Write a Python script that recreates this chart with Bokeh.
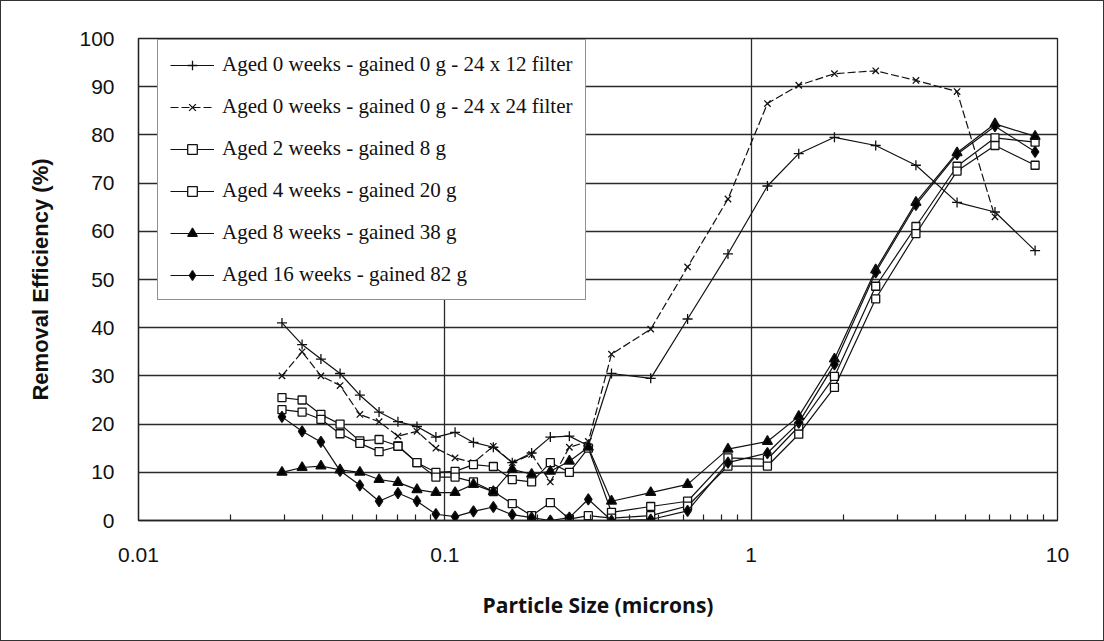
from bokeh.plotting import figure
from bokeh.models import Legend, LegendItem, FixedTicker, CustomJSTickFormatter
from bokeh.embed import file_html
from bokeh.resources import INLINE

NaN = float("nan")

# particle size channels (microns)
particle_size = [0.0294, 0.0342, 0.0394, 0.0455, 0.0528, 0.0610, 0.0703, 0.0811, 0.0935,
                 0.108, 0.124, 0.144, 0.166, 0.192, 0.221, 0.255, 0.294,
                 0.35, 0.47, 0.62, 0.84, 1.13, 1.43, 1.87, 2.55, 3.45, 4.7, 6.25, 8.45]

aged0_24x12 = [41, 36.5, 33.5, 30.5, 26, 22.5, 20.5, 19.5, 17.3, 18.3, 16.2, 15.2, 12, 14, 17.3, 17.5, 15.5,
               30.5, 29.5, 41.8, 55.3, 69.4, 76.1, 79.5, 77.8, 73.7, 66, 64, 56]
aged0_24x24 = [30, 35, 30, 28, 22, 20.5, 17.5, 18.5, 15, 13, 12, 15.4, 12, 13.7, 8, 15.2, 16.4,
               34.5, 39.7, 52.6, 66.7, 86.5, 90.3, 92.7, 93.3, 91.3, 89, 63, NaN]
aged2_8g = [25.5, 25, 22, 20, 16.5, 16.8, 15.5, 12, 10, 10.2, 11.6, 11.2, 8.5, 8, 12, 10, 15,
            1.7, 2.9, 4.0, 13, 12.7, 19.5, 29.9, 48.6, 61, 73.5, 79.4, 78.5]
aged4_20g = [23, 22.5, 21, 18, 16, 14.3, 15.4, 12, 9, 9, 8, 6, 3.5, 1, 3.7, 0.3, 1,
             0.5, 1, 3, 11.3, 11.3, 17.9, 27.6, 46, 59.5, 72.5, 77.8, 73.7]
aged8_38g = [10, 11, 11.3, 10.5, 10, 8.5, 7.9, 6.4, 5.8, 5.8, 7.5, 6, 10.6, 9.6, 10.2, 12.3, 15.2,
             4, 5.8, 7.5, 14.8, 16.4, 21.6, 33.5, 52, 66, 76.3, 82.3, 79.7]
aged16_82g = [21.5, 18.5, 16.3, 10.3, 7.3, 4, 5.7, 4, 1.3, 0.8, 1.9, 2.8, 1.2, 0.6, 0, 0.6, 4.4,
              0, 0.2, 2, 12, 14, 20.3, 32.4, 51.5, 65.5, 76, 81.8, 76.5]

labels = ["Aged 0 weeks - gained 0 g - 24 x 12 filter",
          "Aged 0 weeks - gained 0 g - 24 x 24 filter",
          "Aged 2 weeks - gained 8 g",
          "Aged 4 weeks - gained 20 g",
          "Aged 8 weeks - gained 38 g",
          "Aged 16 weeks - gained 82 g"]

x_ticks = [0.01, 0.1, 1, 10]
y_ticks = list(range(0, 101, 10))

p = figure(x_axis_type="log", x_range=(0.01, 10), y_range=(0, 100),
           frame_width=919, frame_height=482,
           min_border_left=137, min_border_right=46, min_border_top=37, min_border_bottom=120,
           output_backend="svg", toolbar_location=None)
p.styles = {"border": "1px solid #333"}
p.background_fill_color = "white"
p.border_fill_color = "white"
p.outline_line_color = "#222"
p.outline_line_width = 1.3

minor = []
for d in [0.01, 0.1, 1]:
    for k in range(2, 10):
        minor.append(round(d * k, 6))
p.xaxis.ticker = FixedTicker(ticks=x_ticks, minor_ticks=minor)
p.xaxis.formatter = CustomJSTickFormatter(code="return tick.toString();")
p.yaxis.ticker = FixedTicker(ticks=y_ticks)
p.xgrid.ticker = FixedTicker(ticks=x_ticks)
p.ygrid.ticker = FixedTicker(ticks=y_ticks)
for g in (p.xgrid, p.ygrid):
    g.grid_line_color = "#2a2a2a"
    g.grid_line_width = 1.3

for ax in (p.xaxis, p.yaxis):
    ax.axis_line_color = "#222"
    ax.axis_line_width = 1.3
    ax.major_tick_in = 0
    ax.major_tick_out = 0
    ax.major_label_text_font = "Liberation Sans"
    ax.major_label_text_font_size = "21px"
    ax.major_label_text_color = "#111"
p.xaxis.minor_tick_in = 6
p.xaxis.minor_tick_out = 0
p.xaxis.minor_tick_line_color = "#222"
p.xaxis.minor_tick_line_width = 1.2
p.yaxis.minor_tick_in = 0
p.yaxis.minor_tick_out = 0
p.xaxis.major_label_standoff = 27
p.yaxis.major_label_standoff = 24

p.xaxis.axis_label = "Particle Size (microns)"
p.xaxis.axis_label_text_font = "Open Sans"
p.xaxis.axis_label_text_font_style = "bold"
p.xaxis.axis_label_text_font_size = "21px"
p.xaxis.axis_label_text_color = "#111"
p.xaxis.axis_label_standoff = 26
p.yaxis.axis_label = "Removal Efficiency (%)"
p.yaxis.axis_label_text_font = "Liberation Sans"
p.yaxis.axis_label_text_font_style = "bold"
p.yaxis.axis_label_text_font_size = "22px"
p.yaxis.axis_label_text_color = "#111"
p.yaxis.axis_label_standoff = 23

series = [aged0_24x12, aged0_24x24, aged2_8g, aged4_20g, aged8_38g, aged16_82g]
markers = ["cross", "x", "square", "square", "triangle", "diamond"]
sizes = [10, 9, 8, 8, 10, 11]
fills = ["black", "black", "white", "white", "black", "black"]
dashes = ["solid", "8 3", "solid", "solid", "solid", "solid"]

items = []
for vals, mk, sz, fc, dash, lab in zip(series, markers, sizes, fills, dashes, labels):
    r_line = p.line(particle_size, vals, line_color="#111", line_width=1.2, line_dash=dash)
    r_pt = p.scatter(particle_size, vals, marker=mk, size=sz, line_color="#111",
                     fill_color=fc, line_width=1.3)
    items.append(LegendItem(label=lab, renderers=[r_line, r_pt]))

legend = Legend(items=items, location=(19, 220), orientation="vertical",
                label_text_font="Liberation Serif", label_text_font_size="21px",
                label_text_color="#111", glyph_width=44, glyph_height=24,
                label_height=24, label_standoff=8, spacing=17, padding=12,
                border_line_color="#222", border_line_width=1.3,
                background_fill_color="white", background_fill_alpha=1.0)
p.add_layout(legend)

open("out.html", "w").write(file_html(p, INLINE))
